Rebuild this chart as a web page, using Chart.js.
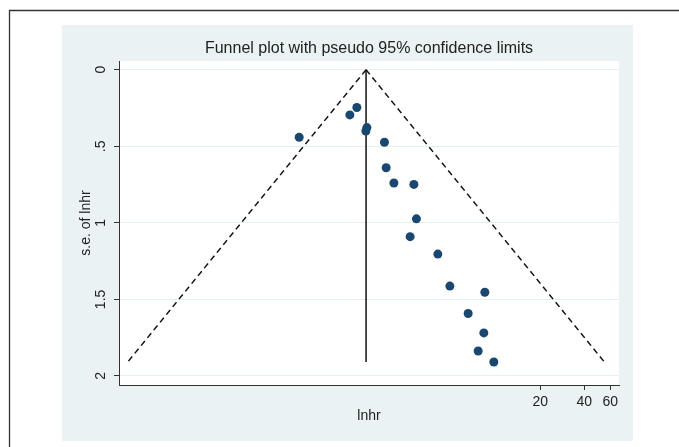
<!DOCTYPE html>
<html>
<head>
<meta charset="utf-8">
<title>Funnel plot</title>
<script src="https://cdn.jsdelivr.net/npm/chart.js@4.4.1/dist/chart.umd.min.js"></script>
<style>
  html, body { margin: 0; padding: 0; background: #fff; }
  #wrap { width: 679px; height: 447px; }
</style>
</head>
<body>
<div id="wrap"><canvas id="funnel" width="679" height="447"></canvas></div>
<script>
// study estimates (hr, on the log axis) and standard errors of lnhr
const hr = [0.455, 1.008, 1.125, 1.317, 1.296, 1.735, 1.782, 2.012, 2.754,
            2.866, 2.596, 4.011, 4.845, 8.39, 6.455, 8.257, 7.554, 9.66];
const se = [0.441, 0.295, 0.247, 0.378, 0.400, 0.474, 0.640, 0.740, 0.749,
            0.974, 1.090, 1.204, 1.413, 1.453, 1.592, 1.719, 1.837, 1.909];
const pooled = 1.30;
const xTicks = [20, 40, 60];
const yTicks = [0, 0.5, 1, 1.5, 2];

const ink = "#222";
const seMax = Math.max(...se);
// pseudo 95% limits: lnhr +/- 1.96 se
const lower = Math.exp(Math.log(pooled) - 1.96 * seMax);
const upper = Math.exp(Math.log(pooled) + 1.96 * seMax);

Chart.defaults.font.family = '"Liberation Sans", Arial, sans-serif';
Chart.defaults.color = ink;

const backdrop = {
  id: "backdrop",
  beforeDraw(chart) {
    const { ctx, chartArea: a } = chart;
    ctx.save();
    // graph region
    ctx.fillStyle = "#EAF2F3";
    ctx.fillRect(62, 25, 571, 416);
    // plot region
    ctx.fillStyle = "#fff";
    ctx.fillRect(a.left, a.top, a.right - a.left, a.bottom - a.top);
    // outer frame
    ctx.strokeStyle = "#333";
    ctx.lineWidth = 1.3;
    ctx.beginPath();
    ctx.moveTo(9.5, 447);
    ctx.lineTo(9.5, 10.5);
    ctx.lineTo(679, 10.5);
    ctx.stroke();
    // title, centred over the plot region
    ctx.fillStyle = ink;
    ctx.font = '16px "Liberation Sans", Arial, sans-serif';
    ctx.textAlign = "center";
    ctx.textBaseline = "middle";
    ctx.fillText("Funnel plot with pseudo 95% confidence limits", (a.left + a.right) / 2, 49);
    ctx.restore();
  }
};

new Chart(document.getElementById("funnel"), {
  type: "scatter",
  data: {
    datasets: [
      {
        label: "studies",
        data: hr.map((v, i) => ({ x: v, y: se[i] })),
        pointRadius: 4.5,
        pointHoverRadius: 4.5,
        pointBackgroundColor: "#1A476F",
        pointBorderWidth: 0,
        showLine: false
      },
      {
        label: "lower limit",
        data: [{ x: pooled, y: 0 }, { x: lower, y: seMax }],
        showLine: true,
        borderColor: "#111",
        borderWidth: 1.5,
        borderDash: [6, 4],
        pointRadius: 0
      },
      {
        label: "upper limit",
        data: [{ x: pooled, y: 0 }, { x: upper, y: seMax }],
        showLine: true,
        borderColor: "#111",
        borderWidth: 1.5,
        borderDash: [6, 4],
        pointRadius: 0
      },
      {
        label: "pooled",
        data: [{ x: pooled, y: 0 }, { x: pooled, y: seMax }],
        showLine: true,
        borderColor: "#111",
        borderWidth: 1.5,
        pointRadius: 0
      }
    ]
  },
  options: {
    responsive: false,
    animation: false,
    devicePixelRatio: 1,
    layout: { padding: { left: 62, right: 60, top: 61, bottom: 6 } },
    plugins: {
      legend: { display: false },
      tooltip: { enabled: false }
    },
    scales: {
      x: {
        type: "logarithmic",
        min: 0.0269,
        max: 68.9,
        afterBuildTicks: s => { s.ticks = xTicks.map(v => ({ value: v })); },
        afterFit: s => { s.height = 56; },
        ticks: {
          callback: v => String(v),
          autoSkip: false,
          maxRotation: 0,
          padding: 4,
          font: { size: 14 }
        },
        grid: { drawOnChartArea: false, tickLength: 5, tickColor: "#333" },
        border: { color: "#333", width: 1 },
        title: { display: true, text: "lnhr", font: { size: 14 }, padding: { top: 16, bottom: 16 } }
      },
      y: {
        type: "linear",
        reverse: true,
        min: -0.057,
        max: 2.059,
        afterBuildTicks: s => { s.ticks = yTicks.map(v => ({ value: v })); },
        afterFit: s => { s.width = 57; },
        ticks: {
          callback: v => String(v).replace(/^0\./, "."),
          autoSkip: false,
          minRotation: 90,
          maxRotation: 90,
          crossAlign: "center",
          padding: 3,
          font: { size: 14 }
        },
        grid: { color: "#E6EFF0", tickLength: 5, tickColor: "#333" },
        border: { color: "#333", width: 1 },
        title: { display: true, text: "s.e. of lnhr", font: { size: 14 }, padding: { top: 16, bottom: 16 } }
      }
    }
  },
  plugins: [backdrop]
});
</script>
</body>
</html>
